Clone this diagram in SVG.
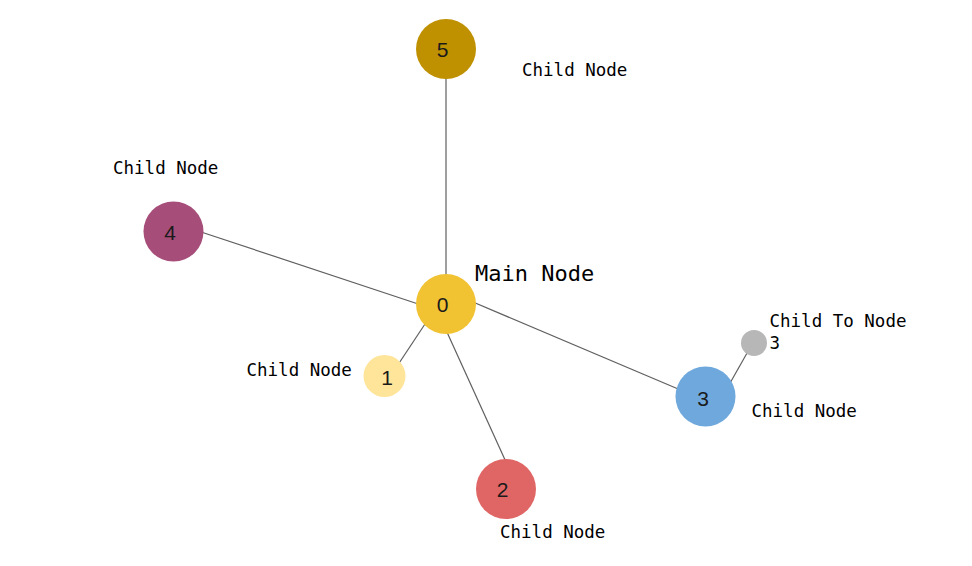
<svg xmlns="http://www.w3.org/2000/svg" width="972" height="566" viewBox="0 0 972 566">
<style>
.edge{stroke:#5f5f5f;stroke-width:1.2;fill:none}
.num{font-family:"Liberation Sans",Arial,sans-serif;font-size:21px;fill:#1a1a1a;text-anchor:middle}
.lbl{font-family:"DejaVu Sans Mono",monospace;font-size:17.5px;fill:#000}
.main{font-family:"DejaVu Sans Mono",monospace;font-size:22px;fill:#000}
</style>
<rect width="972" height="566" fill="#fff"/>
<g id="connectors">
<line class="edge" x1="446" y1="280" x2="446" y2="70"/>
<line class="edge" x1="195" y1="230" x2="425" y2="306.2"/>
<line class="edge" x1="432.3" y1="313" x2="394.5" y2="370"/>
<line class="edge" x1="446" y1="330" x2="506" y2="462"/>
<line class="edge" x1="470" y1="300.8" x2="700" y2="398.2"/>
<line class="edge" x1="725" y1="392" x2="752.7" y2="343"/>
</g>
<g id="node0">
<circle cx="446" cy="304" r="30" fill="#F1C232"/>
<text class="num" x="442.5" y="312">0</text>
<text class="main" x="475" y="281">Main Node</text>
</g>
<g id="node5">
<circle cx="446" cy="49" r="30" fill="#BF9000"/>
<text class="num" x="442.5" y="57">5</text>
<text class="lbl" x="522" y="75.5">Child Node</text>
</g>
<g id="node4">
<circle cx="173.5" cy="231.5" r="30" fill="#A64D79"/>
<text class="num" x="170" y="240">4</text>
<text class="lbl" x="113" y="174">Child Node</text>
</g>
<g id="node1">
<circle cx="384.5" cy="376" r="21" fill="#FFE599"/>
<text class="num" x="387" y="385">1</text>
<text class="lbl" x="246.5" y="376">Child Node</text>
</g>
<g id="node2">
<circle cx="506" cy="489" r="30" fill="#E06666"/>
<text class="num" x="502.5" y="497">2</text>
<text class="lbl" x="500" y="538">Child Node</text>
</g>
<g id="node3">
<circle cx="705.5" cy="396.5" r="30" fill="#6FA8DC"/>
<text class="num" x="703" y="406">3</text>
<text class="lbl" x="751.5" y="416.5">Child Node</text>
</g>
<g id="node3child">
<circle cx="754" cy="343" r="13" fill="#B7B7B7"/>
<text class="lbl" x="769.5" y="326.5">Child To Node</text>
<text class="lbl" x="769.5" y="348.5">3</text>
</g>
</svg>
